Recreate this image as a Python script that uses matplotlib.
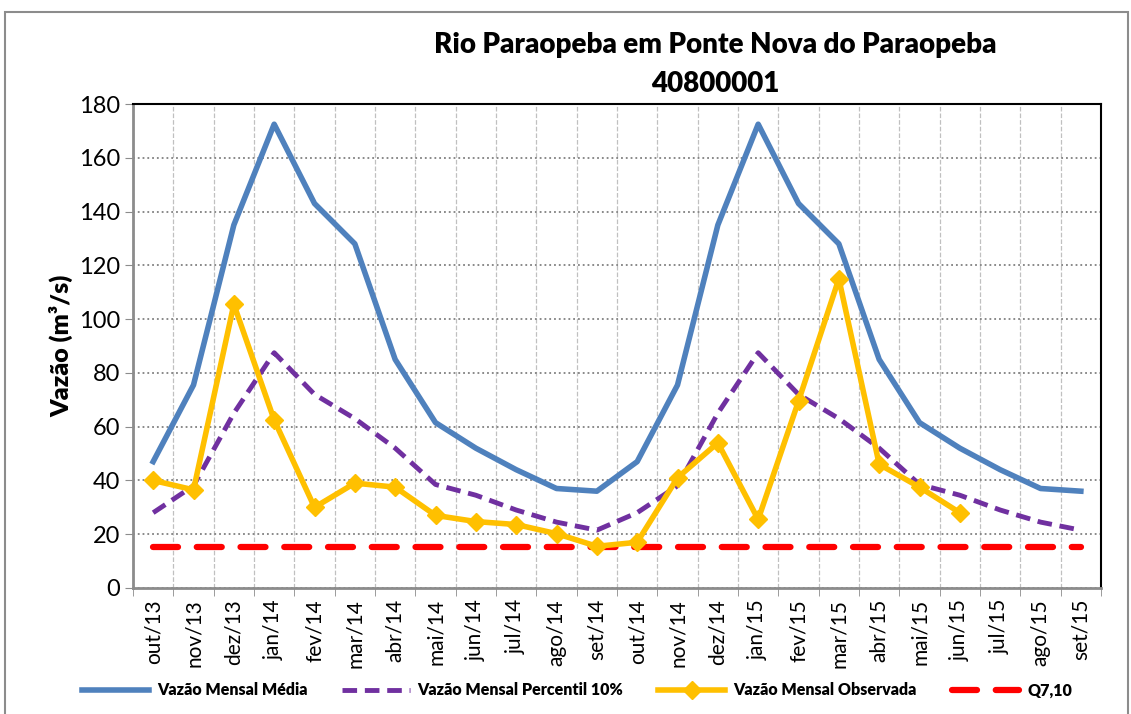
import numpy as np
import matplotlib.pyplot as plt
from matplotlib.patches import Rectangle

meses = ['out/13', 'nov/13', 'dez/13', 'jan/14', 'fev/14', 'mar/14', 'abr/14', 'mai/14',
         'jun/14', 'jul/14', 'ago/14', 'set/14', 'out/14', 'nov/14', 'dez/14', 'jan/15',
         'fev/15', 'mar/15', 'abr/15', 'mai/15', 'jun/15', 'jul/15', 'ago/15', 'set/15']

media_ano = [47, 75.5, 135, 172.5, 143, 128, 85, 61.5, 52, 44, 37, 36]
p10_ano = [28, 38, 65, 87.5, 72, 63, 52, 38.5, 34.5, 29, 24.5, 21.5]
media = media_ano + media_ano
p10 = p10_ano + p10_ano
observada = [40, 36.5, 105.5, 62.5, 30, 39, 37.5, 27, 24.7, 23.6, 20.2, 15.5,
             17, 41, 54, 25.5, 69.5, 115, 46, 37.5, 28]
q710 = 15.3

plt.rcParams['font.family'] = ['Lato', 'DejaVu Sans']

fig = plt.figure(figsize=(11.31, 7.14), dpi=100)
fig.patches.append(Rectangle((0.004, -0.01), 0.993, 0.993, transform=fig.transFigure,
                             fill=False, edgecolor='#8c8c8c', linewidth=1.5))
ax = fig.add_axes([0.1176, 0.1765, 0.8559, 0.6778])

x = np.arange(len(meses))
ax.plot(x, media, color='#4f81bd', lw=4, label='Vazão Mensal Média', zorder=3)
ax.plot(x, p10, color='#7030a0', lw=3.5, ls=(0, (3, 1.6)), label='Vazão Mensal Percentil 10%', zorder=3)
ax.plot(x[:len(observada)], observada, color='#ffc000', lw=4, marker='D', ms=9,
        label='Vazão Mensal Observada', zorder=4)
ax.plot(x, [q710] * len(x), color='#ff0000', lw=4.5, ls=(0, (4, 3)),
        solid_capstyle='round', dash_capstyle='round', label='Q7,10', zorder=3)

ax.set_xlim(-0.5, len(meses) - 0.5)
ax.set_ylim(0, 180)
ax.set_yticks(np.arange(0, 181, 20))
ax.set_xticks(x)
ax.set_xticklabels(meses, rotation=90, fontsize=15)
ax.tick_params(axis='x', length=0, pad=8)
ax.set_xticks(np.arange(-0.5, len(meses)), minor=True)
ax.tick_params(axis='x', which='minor', length=6, color='#8c8c8c', direction='out')
ax.tick_params(axis='y', labelsize=17, length=6, color='#8c8c8c', direction='out')
ax.grid(axis='y', color='#808080', ls=':', lw=1.3)
ax.grid(axis='x', which='minor', color='#c0c0c0', ls='--', lw=0.9)
for s in ['left', 'bottom']:
    ax.spines[s].set_color('#8c8c8c')
    ax.spines[s].set_linewidth(2)
for s in ['top', 'right']:
    ax.spines[s].set_color('black')
    ax.spines[s].set_linewidth(1.5)

ax.set_ylabel('Vazão (m³/s)', fontsize=18, fontweight='heavy')
fig.text(0.632, 0.937, 'Rio Paraopeba em Ponte Nova do Paraopeba', ha='center', va='center',
         fontsize=20, fontweight='heavy')
fig.text(0.632, 0.882, '40800001', ha='center', va='center', fontsize=20, fontweight='heavy')

fig.legend(loc='center', bbox_to_anchor=(0.51, 0.033), ncol=4, frameon=False,
           prop={'weight': 'heavy', 'size': 11.5}, handlelength=4.2, columnspacing=2.2,
           handletextpad=0.5)

fig.savefig('out.png', dpi=100)
